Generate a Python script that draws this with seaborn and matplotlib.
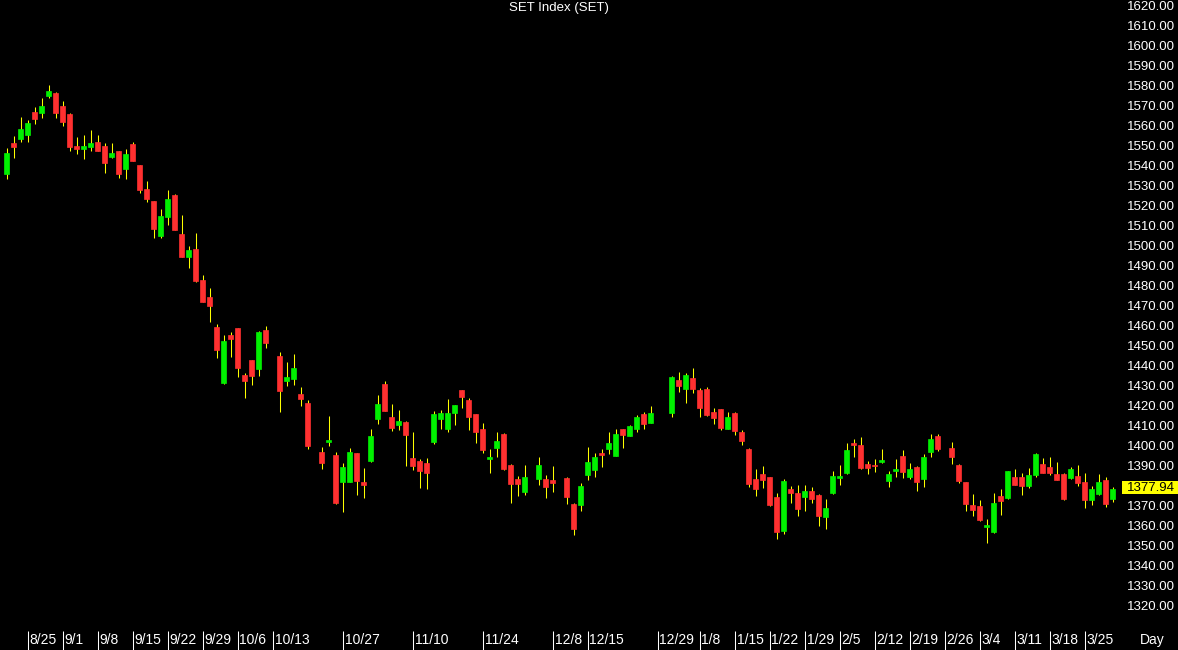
import numpy as np
import pandas as pd
import seaborn as sns
import matplotlib.pyplot as plt
import matplotlib.transforms as mtransforms
from matplotlib.patches import Rectangle

# x axis = weekdays from 2023-08-22 to 2024-03-29, market holidays left empty (None)
start_date = '2023-08-22'
n_days = 159

open_ = [1535.5, 1550.8, 1553.2, 1555.0, 1566.5, 1566.2, 1574.7, 1575.8, 1569.7, 1565.5,
         1549.5, 1548.0, 1549.2, 1551.7, 1549.5, 1544.2, 1547.0, 1538.2, 1550.5, 1540.0,
         1528.2, 1522.2, 1504.5, 1514.2, 1525.0, 1505.3, 1494.2, 1498.0, 1482.5, 1473.8,
         1459.2, 1430.8, 1455.2, 1458.3, 1434.8, 1442.5, 1438.0, 1457.5, None, 1444.5,
         1432.0, 1433.0, 1425.7, 1420.8, None, 1396.5, 1401.3, 1395.0, 1381.5, 1381.5,
         1396.2, 1381.5, 1392.0, 1413.0, 1430.5, 1414.0, 1410.2, 1411.5, 1393.3, 1392.0,
         1390.8, 1401.5, 1413.0, 1408.0, 1415.8, 1427.5, 1422.5, 1415.5, 1407.8, 1393.0,
         1398.7, 1405.5, 1389.8, 1382.8, 1376.7, None, 1383.2, 1382.8, 1382.5, None,
         1383.3, 1370.5, 1370.2, 1385.0, 1387.5, 1395.8, 1398.0, 1394.7, 1408.0, 1404.7,
         1408.0, 1415.7, 1410.8, None, None, 1415.8, 1432.5, 1428.0, 1433.5, 1427.5,
         1428.0, 1416.5, 1418.0, 1408.0, 1416.2, 1406.7, 1398.2, 1383.0, 1385.5, 1384.0,
         1374.2, 1357.0, 1378.0, 1376.2, 1373.8, 1376.8, 1374.8, 1363.8, 1376.2, 1383.5,
         1385.8, 1400.8, 1400.0, 1390.3, 1390.0, 1391.7, 1382.2, 1387.2, 1394.5, 1384.2,
         1388.8, 1383.0, 1396.7, 1404.7, None, 1398.3, 1389.8, 1381.3, 1370.0, 1369.5,
         1359.2, 1356.5, 1374.5, 1373.3, 1383.8, 1383.8, 1379.7, 1384.8, 1390.5, 1388.8,
         1385.7, 1385.5, 1383.7, 1384.5, 1381.5, 1372.5, 1375.5, 1382.5, 1373.0]

high = [1548.7, 1554.5, 1564.0, 1562.3, 1569.0, 1573.5, 1580.0, 1576.3, 1572.0, 1565.8,
        1554.2, 1555.0, 1557.3, 1554.8, 1550.8, 1551.0, 1547.0, 1548.0, 1551.3, 1540.0,
        1532.0, 1522.2, 1517.8, 1527.5, 1525.5, 1515.0, 1499.5, 1505.8, 1485.0, 1478.3,
        1460.3, 1455.2, 1456.5, 1458.3, 1435.8, 1442.5, 1457.0, 1459.5, None, 1446.5,
        1441.3, 1445.7, 1429.0, 1422.5, None, 1399.2, 1414.5, 1396.5, 1391.0, 1398.3,
        1396.2, 1388.3, 1408.2, 1425.0, 1431.8, 1420.3, 1417.3, 1412.2, 1406.5, 1392.8,
        1393.3, 1417.0, 1417.5, 1423.2, 1420.2, 1427.5, 1423.5, 1415.5, 1411.2, 1398.2,
        1406.5, 1406.2, 1390.3, 1384.5, 1390.0, None, 1393.8, 1384.8, 1389.6, None,
        1383.8, 1370.8, 1381.2, 1398.8, 1396.2, 1398.0, 1406.7, 1408.2, 1408.0, 1410.0,
        1415.0, 1416.7, 1419.5, None, None, 1434.7, 1436.5, 1435.8, 1438.3, 1428.3,
        1428.8, 1418.7, 1418.0, 1416.7, 1416.7, 1407.5, 1398.5, 1387.8, 1389.5, 1384.0,
        1376.0, 1383.2, 1379.5, 1380.2, 1380.0, 1378.8, 1375.3, 1373.2, 1387.2, 1390.0,
        1401.2, 1402.8, 1404.2, 1392.0, 1392.8, 1398.2, 1387.2, 1392.8, 1397.5, 1391.0,
        1389.5, 1395.7, 1405.5, 1405.3, None, 1401.5, 1390.5, 1381.7, 1375.5, 1372.5,
        1362.8, 1376.2, 1378.0, 1387.2, 1387.8, 1385.8, 1388.5, 1396.2, 1393.5, 1393.8,
        1391.3, 1386.2, 1388.8, 1390.0, 1385.8, 1379.5, 1385.3, 1383.8, 1379.2]

low = [1532.8, 1543.7, 1551.5, 1551.5, 1560.7, 1563.5, 1573.3, 1563.3, 1559.7, 1547.2,
       1545.7, 1543.0, 1546.8, 1546.8, 1536.2, 1543.7, 1533.3, 1532.8, 1541.8, 1525.8,
       1521.7, 1503.7, 1503.7, 1510.0, 1507.5, 1494.2, 1488.7, 1481.7, 1471.7, 1461.7,
       1443.5, 1430.3, 1443.8, 1434.2, 1423.3, 1430.0, 1434.7, 1448.7, None, 1416.7,
       1429.5, 1430.0, 1419.5, 1398.2, None, 1387.8, 1399.7, 1370.5, 1366.7, 1381.5,
       1374.8, 1373.7, 1391.7, 1410.3, 1417.2, 1407.0, 1407.3, 1389.7, 1387.5, 1378.3,
       1378.0, 1400.5, 1408.0, 1406.5, 1410.0, 1418.7, 1407.5, 1400.8, 1396.2, 1385.8,
       1394.2, 1387.5, 1371.0, 1374.5, 1375.2, None, 1380.0, 1373.7, 1376.6, None,
       1370.3, 1355.2, 1367.2, 1382.5, 1384.2, 1389.2, 1395.5, 1394.5, 1398.3, 1404.5,
       1406.7, 1408.0, 1410.8, None, None, 1414.2, 1426.7, 1421.2, 1425.8, 1414.2,
       1414.5, 1410.5, 1407.5, 1408.0, 1405.0, 1400.0, 1379.2, 1374.5, 1378.7, 1369.5,
       1352.8, 1355.3, 1371.2, 1364.7, 1367.2, 1371.0, 1359.7, 1357.8, 1375.5, 1380.0,
       1385.5, 1394.2, 1388.2, 1385.3, 1386.5, 1390.8, 1379.2, 1384.2, 1383.7, 1383.2,
       1377.2, 1379.2, 1393.8, 1397.0, None, 1390.5, 1381.2, 1367.2, 1364.5, 1362.2,
       1351.2, 1356.2, 1365.0, 1373.0, 1380.0, 1375.0, 1378.7, 1383.8, 1386.2, 1385.0,
       1382.5, 1372.5, 1383.0, 1379.5, 1368.5, 1369.8, 1375.0, 1369.2, 1371.5]

close = [1546.2, 1549.2, 1557.8, 1560.8, 1563.0, 1569.5, 1577.0, 1566.2, 1561.7, 1548.8,
         1548.2, 1549.3, 1551.0, 1547.2, 1541.2, 1546.0, 1535.7, 1545.7, 1542.2, 1527.5,
         1523.0, 1508.0, 1514.7, 1523.2, 1507.5, 1494.2, 1497.5, 1482.0, 1471.7, 1469.7,
         1447.5, 1451.8, 1452.8, 1438.7, 1432.0, 1434.7, 1456.7, 1450.8, None, 1427.2,
         1434.0, 1438.5, 1423.0, 1399.5, None, 1391.0, 1402.5, 1371.2, 1388.8, 1396.5,
         1381.8, 1380.0, 1404.5, 1420.3, 1417.2, 1408.5, 1412.2, 1405.0, 1389.7, 1387.2,
         1386.2, 1415.7, 1416.0, 1416.2, 1420.2, 1423.8, 1414.2, 1406.7, 1397.5, 1394.0,
         1402.0, 1387.8, 1380.3, 1380.5, 1384.0, None, 1390.0, 1378.8, 1381.2, None,
         1374.2, 1358.0, 1379.5, 1391.5, 1393.8, 1395.0, 1400.8, 1405.5, 1405.2, 1409.5,
         1414.2, 1410.5, 1415.9, None, None, 1434.2, 1429.7, 1435.2, 1428.0, 1418.7,
         1415.0, 1413.5, 1408.3, 1414.0, 1407.2, 1401.8, 1380.5, 1378.0, 1382.5, 1369.8,
         1356.7, 1381.8, 1376.2, 1368.2, 1376.8, 1373.2, 1364.7, 1368.5, 1384.7, 1384.5,
         1397.5, 1400.0, 1388.7, 1388.5, 1389.5, 1392.5, 1385.5, 1388.0, 1386.3, 1387.8,
         1381.3, 1394.2, 1403.0, 1398.0, None, 1393.8, 1382.2, 1370.7, 1367.5, 1362.5,
         1359.8, 1371.0, 1372.2, 1386.8, 1380.2, 1379.7, 1384.8, 1395.3, 1386.2, 1385.8,
         1382.5, 1373.0, 1388.0, 1380.8, 1372.5, 1377.8, 1381.5, 1370.5, 1377.94]

tick_dates = ['2023-08-25', '2023-09-01', '2023-09-08', '2023-09-15', '2023-09-22',
              '2023-09-29', '2023-10-06', '2023-10-13', '2023-10-27', '2023-11-10',
              '2023-11-24', '2023-12-08', '2023-12-15', '2023-12-29', '2024-01-08',
              '2024-01-15', '2024-01-22', '2024-01-29', '2024-02-05', '2024-02-12',
              '2024-02-19', '2024-02-26', '2024-03-04', '2024-03-11', '2024-03-18',
              '2024-03-25']

y_ticks = list(range(1320, 1621, 10))

# build the table
dates = pd.bdate_range(start_date, periods=n_days)
df = pd.DataFrame({'date': dates, 'open': open_, 'high': high,
                   'low': low, 'close': close}, dtype=object)
for c in ['open', 'high', 'low', 'close']:
    df[c] = pd.to_numeric(df[c])
df['pos'] = np.arange(len(df))
df = df.dropna()
df['up'] = df['close'] >= df['open']

sns.set_theme(style='dark', rc={'figure.facecolor': 'black', 'axes.facecolor': 'black',
                                'savefig.facecolor': 'black'})
plt.rcParams['font.family'] = ['Liberation Sans', 'DejaVu Sans']

W, H = 1178, 650
fig = plt.figure(figsize=(W / 100, H / 100), dpi=100)
ax = fig.add_axes([0, 19 / H, 1121 / W, 631 / H])

green = '#00F000'
red = '#FF3030'
colors = np.where(df['up'], green, red)

# wicks then bodies
ax.vlines(df['pos'], df['low'], df['high'], color='#FFFF00', linewidth=0.75, zorder=1)
body_low = df[['open', 'close']].min(axis=1)
body_h = (df['close'] - df['open']).abs()
ax.bar(df['pos'], body_h, bottom=body_low, width=0.72, color=colors,
       edgecolor=colors, linewidth=0.5, zorder=2)

ax.set_xlim(-6.5 / 7, (1121 - 6.5) / 7)
ax.set_ylim(1307, 1622.5)
for s in ax.spines.values():
    s.set_visible(False)
ax.grid(False)

# right price scale
ax.yaxis.tick_right()
ax.set_yticks(y_ticks)
ax.set_yticklabels([f'{v:.2f}' for v in y_ticks])
ax.tick_params(axis='y', length=0, pad=4.5, labelsize=9.5, labelcolor='white')

# date ticks: line below the chart, label to its right
date_pos = pd.Series(np.arange(n_days), index=dates)
tick_pos = [date_pos[pd.Timestamp(d)] for d in tick_dates]
ax.set_xticks(tick_pos)
ax.set_xticklabels([])
ax.tick_params(axis='x', length=14, width=0.75, color='white', direction='out', bottom=True)
for p, d in zip(tick_pos, tick_dates):
    t = pd.Timestamp(d)
    ax.annotate(f'{t.month}/{t.day}', xy=(p, 0), xycoords=('data', 'axes fraction'),
                xytext=(2, -2), textcoords='offset pixels', ha='left', va='top',
                fontsize=10, color='white')
fig.text(1140 / W, 1 - 633 / H, 'Day', ha='left', va='top', fontsize=10, color='white')

fig.text(559 / W, 1 - 2 / H, 'SET Index (SET)', ha='center', va='top',
         fontsize=9.5, color='white')

# last price marker
last = df['close'].iloc[-1]
trans = mtransforms.blended_transform_factory(fig.transFigure, ax.transData)
ax.add_patch(Rectangle((1121.5 / W, last - 2.6), 57 / W, 6.8, transform=trans,
                       facecolor='#FFFF00', edgecolor='none', clip_on=False, zorder=5))
ax.text(1126.5 / W, last + 0.8, f'{last:.2f}', transform=trans, ha='left', va='center',
        fontsize=9.5, color='black', zorder=6, clip_on=False)

fig.savefig('out.png', dpi=100)
